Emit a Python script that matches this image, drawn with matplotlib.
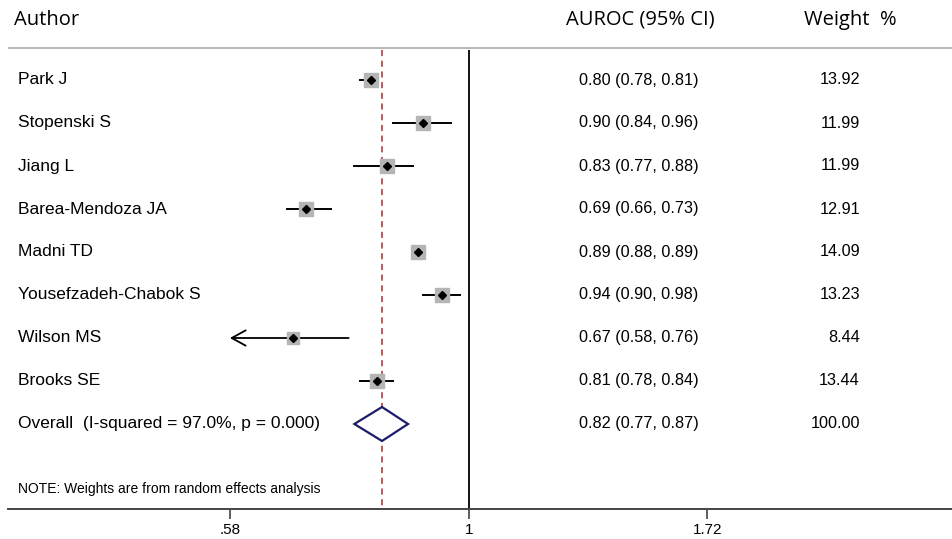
import matplotlib.pyplot as plt
from matplotlib.patches import Polygon
import numpy as np

authors = ['Park J', 'Stopenski S', 'Jiang L', 'Barea-Mendoza JA', 'Madni TD',
           'Yousefzadeh-Chabok S', 'Wilson MS', 'Brooks SE']
auroc = [0.80, 0.90, 0.83, 0.69, 0.89, 0.94, 0.67, 0.81]
ci_lo = [0.78, 0.84, 0.77, 0.66, 0.88, 0.90, 0.58, 0.78]
ci_hi = [0.81, 0.96, 0.88, 0.73, 0.89, 0.98, 0.76, 0.84]
weights = [13.92, 11.99, 11.99, 12.91, 14.09, 13.23, 8.44, 13.44]

overall_label = 'Overall  (I-squared = 97.0%, p = 0.000)'
overall = 0.82
overall_lo = 0.77
overall_hi = 0.87
overall_w = 100.00

xticks = [0.58, 1, 1.72]
xticklabels = ['.58', '1', '1.72']
x_min_clip = 0.58

W, H = 953, 539
fig = plt.figure(figsize=(W / 100, H / 100), dpi=100)
ax = fig.add_axes([8 / W, 30 / H, 945 / W, 509 / H])
ax.set_xscale('log')
ax.set_xlim(0.350, 3.008)
ax.set_ylim(509, 0)

for s in ['top', 'right', 'left']:
    ax.spines[s].set_visible(False)
ax.spines['bottom'].set_color('#444444')
ax.spines['bottom'].set_linewidth(1.4)
ax.set_yticks([])
ax.set_xticks(xticks)
ax.set_xticklabels(xticklabels)
ax.minorticks_off()
ax.tick_params(axis='x', direction='out', length=7, width=1.2, color='#444444',
               labelsize=11, pad=3)
for lab in ax.get_xticklabels():
    lab.set_fontfamily('Liberation Sans')

names = dict(fontfamily='Liberation Sans', fontsize=12.5)
nums = dict(fontfamily='Liberation Sans', fontsize=11.7)
head = dict(fontfamily='Open Sans', fontsize=14.5)
tx = ax.get_yaxis_transform()

def px(x):
    return (x - 8) / 945

# header
ax.text(px(14), 20, 'Author', ha='left', va='center', transform=tx, **head)
ax.text(px(640), 20, 'AUROC (95% CI)', ha='center', va='center', transform=tx, **head)
ax.text(px(850), 20, 'Weight  %', ha='center', va='center', transform=tx, **head)
ax.axhline(48, color='#aaaaaa', lw=1.2)

# reference lines
ax.vlines(1, 50, 509, color='black', lw=1.3)
ax.vlines(overall, 50, 509, color='#a03030', lw=1.1, linestyles=(0, (4, 3)))

rows = 80 + 43 * np.arange(len(authors) + 1)

for i, name in enumerate(authors):
    y = rows[i]
    lo = max(ci_lo[i], x_min_clip)
    if ci_lo[i] <= x_min_clip:
        ax.annotate('', xy=(lo, y), xytext=(ci_hi[i], y),
                    arrowprops=dict(arrowstyle='->,head_length=1.0,head_width=0.55',
                                    lw=1.3, color='black', shrinkA=0, shrinkB=0))
    else:
        ax.plot([lo, ci_hi[i]], [y, y], color='black', lw=1.4)
    ax.plot(auroc[i], y, marker='s', color='#b5b5b5', ls='',
            markersize=10.5 * np.sqrt(weights[i] / 14.09), zorder=3)
    ax.plot(auroc[i], y, marker='D', color='black', ls='', markersize=4.5, zorder=4)
    ax.text(px(18), y, name, ha='left', va='center', transform=tx, **names)
    ax.text(px(639), y, f'{auroc[i]:.2f} ({ci_lo[i]:.2f}, {ci_hi[i]:.2f})',
            ha='center', va='center', transform=tx, **nums)
    ax.text(px(860), y, f'{weights[i]:.2f}', ha='right', va='center', transform=tx, **nums)

yo = rows[-1]
diamond = Polygon([(overall_lo, yo), (overall, yo - 17), (overall_hi, yo), (overall, yo + 17)],
                  closed=True, fill=True, facecolor='white', edgecolor='#1c1c6b', lw=1.6, zorder=5)
ax.add_patch(diamond)
ax.text(px(18), yo, overall_label, ha='left', va='center', transform=tx, **names)
ax.text(px(639), yo, f'{overall:.2f} ({overall_lo:.2f}, {overall_hi:.2f})',
        ha='center', va='center', transform=tx, **nums)
ax.text(px(860), yo, f'{overall_w:.2f}', ha='right', va='center', transform=tx, **nums)

ax.text(px(18), 489, 'NOTE: Weights are from random effects analysis', ha='left', va='center',
        transform=tx, fontfamily='Liberation Sans', fontsize=10)

fig.savefig('out.png', dpi=100, facecolor='white')
